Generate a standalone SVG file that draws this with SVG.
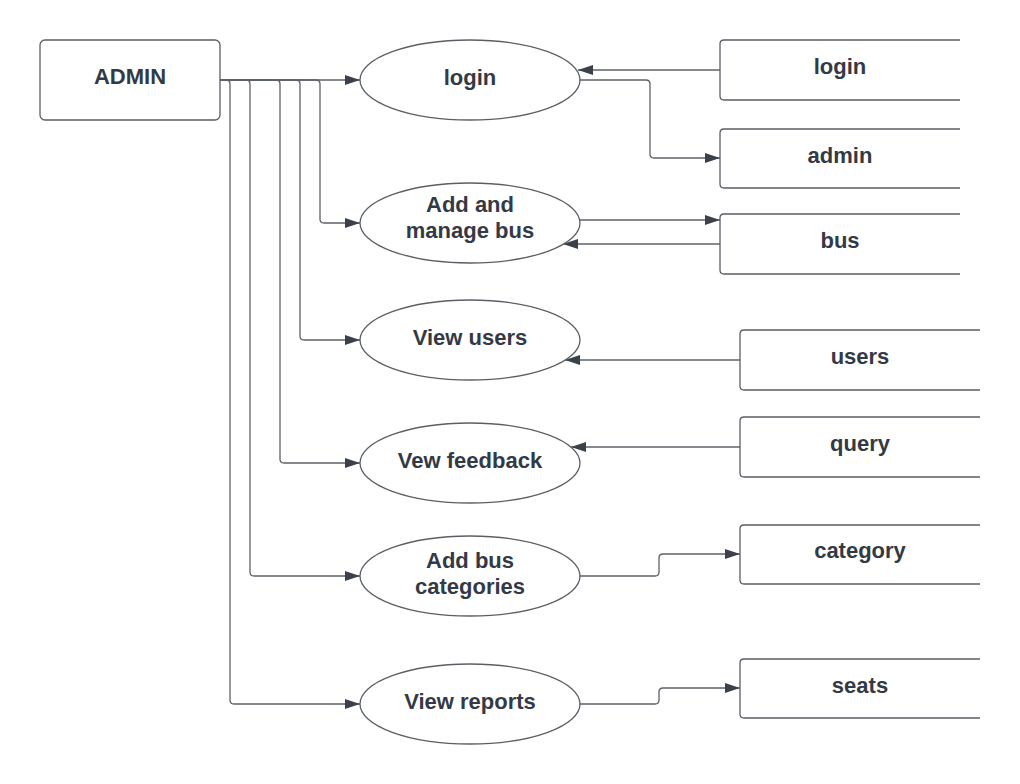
<svg xmlns="http://www.w3.org/2000/svg" width="1020" height="784" viewBox="0 0 1020 784">
<style>
.shape{fill:#ffffff;stroke:#5a5f66;stroke-width:1.3}
.open{fill:none;stroke:#5a5f66;stroke-width:1.3}
.lbl{font-family:"Liberation Sans",Arial,sans-serif;font-weight:bold;font-size:22px;fill:#333a45;text-anchor:middle}
.con{fill:none;stroke:#5e6268;stroke-width:1.3}
</style>
<defs>
<marker id="arr" markerUnits="userSpaceOnUse" markerWidth="15" markerHeight="10" refX="15" refY="5" orient="auto">
<path d="M0,0 L15,5 L0,10 z" fill="#3a414a"/>
</marker>
</defs>
<rect width="1020" height="784" fill="#ffffff"/>
<g id="connectors">
<path class="con" d="M220,80 H360" marker-end="url(#arr)"/>
<path class="con" d="M220,80 H316 Q320,80 320,84 V219 Q320,223 324,223 H360" marker-end="url(#arr)"/>
<path class="con" d="M220,80 H296 Q300,80 300,84 V336 Q300,340 304,340 H360" marker-end="url(#arr)"/>
<path class="con" d="M220,80 H276 Q280,80 280,84 V459 Q280,463 284,463 H360" marker-end="url(#arr)"/>
<path class="con" d="M220,80 H246 Q250,80 250,84 V572 Q250,576 254,576 H360" marker-end="url(#arr)"/>
<path class="con" d="M220,80 H226 Q230,80 230,84 V700 Q230,704 234,704 H360" marker-end="url(#arr)"/>
<path class="con" d="M720,70 H578" marker-end="url(#arr)"/>
<path class="con" d="M580,80 H646 Q650,80 650,84 V154 Q650,158 654,158 H720" marker-end="url(#arr)"/>
<path class="con" d="M580,220 H720" marker-end="url(#arr)"/>
<path class="con" d="M720,244 H563" marker-end="url(#arr)"/>
<path class="con" d="M740,360 H565" marker-end="url(#arr)"/>
<path class="con" d="M740,447 H571" marker-end="url(#arr)"/>
<path class="con" d="M580,576 H655 Q659,576 659,572 V558 Q659,554 663,554 H740" marker-end="url(#arr)"/>
<path class="con" d="M580,704 H655 Q659,704 659,700 V692 Q659,688 663,688 H740" marker-end="url(#arr)"/>
</g>
<g id="admin-actor">
<rect class="shape" x="40" y="40" width="180" height="80" rx="5"/>
<text class="lbl" x="130" y="84">ADMIN</text>
</g>
<g id="uc-login">
<ellipse class="shape" cx="470" cy="80" rx="110" ry="40"/>
<text class="lbl" x="470" y="85">login</text>
</g>
<g id="uc-add-manage-bus">
<ellipse class="shape" cx="470" cy="223" rx="110" ry="40"/>
<text class="lbl" x="470" y="212">Add and</text>
<text class="lbl" x="470" y="238">manage bus</text>
</g>
<g id="uc-view-users">
<ellipse class="shape" cx="470" cy="340" rx="110" ry="40"/>
<text class="lbl" x="470" y="345">View users</text>
</g>
<g id="uc-view-feedback">
<ellipse class="shape" cx="470" cy="463" rx="110" ry="40"/>
<text class="lbl" x="470" y="468">Vew feedback</text>
</g>
<g id="uc-add-bus-categories">
<ellipse class="shape" cx="470" cy="576" rx="110" ry="40"/>
<text class="lbl" x="470" y="568">Add bus</text>
<text class="lbl" x="470" y="594">categories</text>
</g>
<g id="uc-view-reports">
<ellipse class="shape" cx="470" cy="704" rx="110" ry="40"/>
<text class="lbl" x="470" y="709">View reports</text>
</g>
<g id="db-login">
<path class="open" d="M960,40 H724 Q720,40 720,44 V96 Q720,100 724,100 H960"/>
<text class="lbl" x="840" y="74">login</text>
</g>
<g id="db-admin">
<path class="open" d="M960,129 H724 Q720,129 720,133 V184 Q720,188 724,188 H960"/>
<text class="lbl" x="840" y="163">admin</text>
</g>
<g id="db-bus">
<path class="open" d="M960,214 H724 Q720,214 720,218 V270 Q720,274 724,274 H960"/>
<text class="lbl" x="840" y="248">bus</text>
</g>
<g id="db-users">
<path class="open" d="M980,330 H744 Q740,330 740,334 V386 Q740,390 744,390 H980"/>
<text class="lbl" x="860" y="364">users</text>
</g>
<g id="db-query">
<path class="open" d="M980,417 H744 Q740,417 740,421 V473 Q740,477 744,477 H980"/>
<text class="lbl" x="860" y="451">query</text>
</g>
<g id="db-category">
<path class="open" d="M980,525 H744 Q740,525 740,529 V580 Q740,584 744,584 H980"/>
<text class="lbl" x="860" y="558">category</text>
</g>
<g id="db-seats">
<path class="open" d="M980,659 H744 Q740,659 740,663 V714 Q740,718 744,718 H980"/>
<text class="lbl" x="860" y="693">seats</text>
</g>
</svg>
